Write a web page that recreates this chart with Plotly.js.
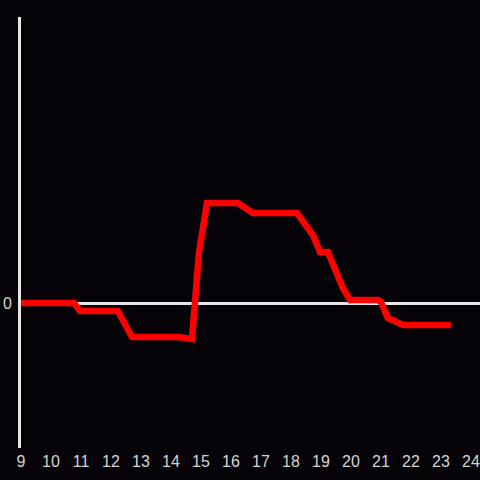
<!DOCTYPE html>
<html><head><meta charset="utf-8">
<script src="https://cdn.plot.ly/plotly-3.0.1.min.js"></script>
<style>html,body{margin:0;padding:0;background:#050307;}</style>
</head><body><div id="chart" style="width:480px;height:480px;"></div>
<script>
const hours = [9.0, 10.77, 10.97, 12.23, 12.7, 14.23, 14.7, 14.93, 15.2, 16.23, 16.73, 18.2, 18.73, 18.97, 19.23, 19.73, 19.97, 20.9, 21.0, 21.23, 21.73, 23.33];
const values = [0, 0, -0.8, -0.8, -3.4, -3.4, -3.6, 5.0, 10.0, 10.0, 9.0, 9.0, 6.8, 5.1, 5.1, 1.5, 0.3, 0.3, 0.1, -1.5, -2.2, -2.2];
const xTicks = [9,10,11,12,13,14,15,16,17,18,19,20,21,22,23,24];
const yTicks = [0];

Plotly.newPlot('chart', [{
  x: hours, y: values, type: 'scatter', mode: 'lines',
  line: {color: '#ff0000', width: 6.5}, hoverinfo: 'skip'
}], {
  width: 480, height: 480,
  paper_bgcolor: '#050307', plot_bgcolor: '#050307',
  margin: {l: 21, r: 0, t: 17, b: 32},
  showlegend: false,
  font: {family: 'Liberation Sans, Arial, sans-serif', size: 16, color: '#d4d4d4'},
  xaxis: {range: [9, 24.3], tickvals: xTicks, ticktext: xTicks.map(String), ticklabeloverflow: 'allow',
    showgrid: false, zeroline: false, showline: false, ticks: '', ticklabelstandoff: 2, tickfont: {size: 16, color: '#d4d4d4'}},
  yaxis: {range: [-14.5, 28.6], tickvals: yTicks, ticktext: ['0'],
    showgrid: false, zeroline: true, zerolinecolor: '#e6e6e6', zerolinewidth: 3,
    showline: true, linecolor: '#e6e6e6', linewidth: 3, ticks: '', ticklen: 0, ticklabelstandoff: 3,
    tickfont: {size: 16, color: '#d4d4d4'}}
}, {staticPlot: true});
</script></body></html>
